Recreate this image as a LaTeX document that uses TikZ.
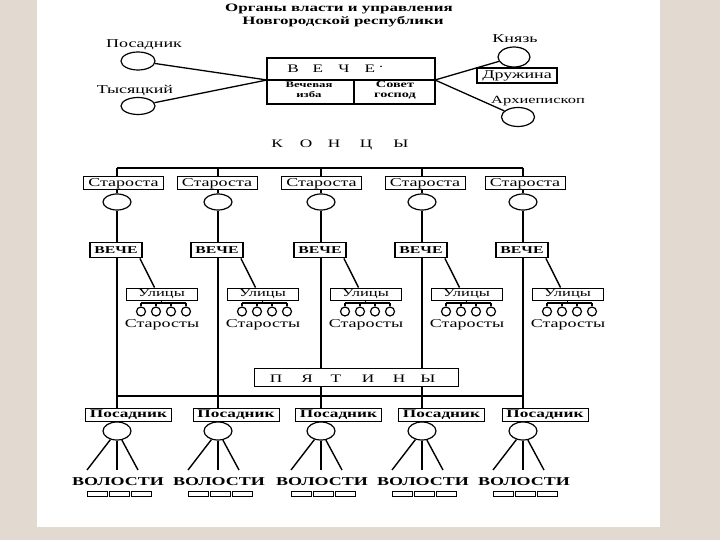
\documentclass[tikz,border=0pt]{standalone}
\usepackage{fontspec}
\setmainfont{Liberation Serif}[FakeStretch=1.5]
\usetikzlibrary{shapes.geometric,calc}
\definecolor{bgc}{HTML}{E2DAD0}
\newcommand\fsz[1]{\fontsize{#1}{#1}\selectfont}
\pgfdeclarelayer{back}\pgfdeclarelayer{lines}\pgfsetlayers{back,lines,main}
\tikzset{
  oval/.style={ellipse,draw,line width=1.2pt,fill=white,inner sep=0pt,minimum width=#1},
  bx/.style={draw,rectangle,line width=1pt,fill=white,inner sep=0pt},
  lbl/.style={inner sep=0pt,anchor=base},
  ln/.style={line width=1.4pt},
  thk/.style={line width=1.8pt}
}
\begin{document}
\begin{tikzpicture}[x=1pt,y=-1pt]
\begin{pgfonlayer}{back}
\fill[bgc] (0,0) rectangle (720,540);
\fill[white] (37,0) rectangle (660,527);
\end{pgfonlayer}
\useasboundingbox (0,0) rectangle (720,540);

% title
\node[lbl,font=\fsz{11.3}\bfseries] (t1) at (339,12) {Органы власти и управления};
\node[lbl,font=\fsz{11.3}\bfseries] (t2) at (343,25) {Новгородской республики};

% top veche
\node[bx,line width=1.2pt,minimum width=168pt,minimum height=46pt] (veche) at (351,81) {};
\coordinate (vl) at (267,80);
\coordinate (vr) at (435,80);
\coordinate (vdt) at (354,80);
\coordinate (vdb) at (354,104);
\draw[line width=1.2pt] (vl) -- (vr);
\draw[line width=1.2pt] (vdt) -- (vdb);
\foreach \k/\x/\c in {1/293/В,2/318/Е,3/344/Ч,4/370/Е}
  \node[lbl,font=\fsz{11.5}] (vt\k) at (\x,73) {\c};
\node[lbl,font=\fsz{11}] (vtd) at (381,71) {·};
\node[align=center,inner sep=0pt,font=\fontsize{8.5}{10}\selectfont\bfseries] (izba) at (309,90) {Вечевая\\изба};
\node[align=center,inner sep=0pt,font=\fontsize{9.5}{10}\selectfont\bfseries] (sovet) at (395,90) {Совет\\господ};

% left
\node[lbl,font=\fsz{12}] (tpos) at (144,48) {Посадник};
\node[oval=34pt,minimum height=18pt] (pos) at (138,61) {};
\node[lbl,font=\fsz{12}] (ttys) at (135,94) {Тысяцкий};
\node[oval=34pt,minimum height=17pt] (tys) at (138,106) {};
\begin{pgfonlayer}{lines}
\draw[line width=1.3pt] (pos) -- (vl);
\draw[line width=1.3pt] (tys) -- (vl);
\end{pgfonlayer}

% right
\node[lbl,font=\fsz{12}] (tkn) at (515,43) {Князь};
\node[oval=32pt,minimum height=20pt] (kn) at (514,57) {};
\node[bx,line width=1.3pt,minimum width=80pt,minimum height=15pt,font=\fsz{12}] (dr) at (517,75.5) {Дружина};
\node[lbl,font=\fsz{11}] (tar) at (538,104) {Архиепископ};
\node[oval=33pt,minimum height=19pt] (ar) at (518,117) {};
\begin{pgfonlayer}{lines}
\draw[line width=1.3pt] (vr) -- (kn);
\draw[line width=1.3pt] (vr) -- (ar);
\end{pgfonlayer}

% KONTSY
\foreach \k/\x/\c in {1/277/К,2/306/О,3/334/Н,4/366/Ц,5/401/Ы}
  \node[lbl,font=\fsz{11.5}] (kt\k) at (\x,148) {\c};

% PYATINY
\node[bx,minimum width=204pt,minimum height=18pt] (pyat) at (356,377) {};
\foreach \k/\x/\c in {1/276/П,2/307/Я,3/336/Т,4/368/И,5/399/Н,6/428/Ы}
  \node[lbl,font=\fsz{11.5}] (pt\k) at (\x,382) {\c};

% columns
\foreach \i/\L/\sc/\pc in {1/117/123.5/128.5,2/218/217/236,3/321/321.5/338.5,4/422/425/441.5,5/523/525/545}{
  \coordinate (kh\i) at (\L,168);
  \coordinate (bh\i) at (\L,396);
  \node[bx,minimum width=80pt,minimum height=13pt,font=\fsz{12}] (st\i) at (\sc,183.5) {Староста};
  \node[oval=28pt,minimum height=16pt] (sc\i) at (\L,202) {};
  \node[bx,line width=1.8pt,minimum width=52pt,minimum height=15pt,font=\fsz{10.5}\bfseries] (v\i) at (\L-1,250) {ВЕЧЕ};
  \node[bx,minimum width=71pt,minimum height=12pt,font=\fsz{11}] (u\i) at (\L+44.5,294) {Улицы};
  \coordinate (ct\i) at (\L+44.5,303);
  \coordinate (cl\i) at (\L+24,303);
  \coordinate (cr\i) at (\L+69,303);
  \foreach \m in {0,1,2,3}{
    \node[circle,draw,line width=1.2pt,fill=white,inner sep=0pt,minimum size=9pt] (sm\i\m) at (\L+24+15*\m,311.5) {};
    \coordinate (smt\i\m) at (\L+24+15*\m,303);
  }
  \node[lbl,font=\fsz{12}] (sts\i) at (\L+45,327) {Старосты};
  \node[bx,minimum width=86pt,minimum height=13pt,font=\fsz{11.5}\bfseries] (p\i) at (\pc,414.5) {Посадник};
  \node[oval=28pt,minimum height=18pt] (pc\i) at (\L,431) {};
  \coordinate (wl\i) at (\L-30,470);
  \coordinate (wm\i) at (\L,470);
  \coordinate (wr\i) at (\L+21,470);
  \node[lbl,font=\fsz{12}\bfseries] (vol\i) at (\L+1,485) {ВОЛОСТИ};
  \node[bx,line width=1.4pt,minimum width=20pt,minimum height=5pt] (va\i) at (\L-19.5,494) {};
  \node[bx,line width=1.4pt,minimum width=20pt,minimum height=5pt] (vb\i) at (\L+2.5,494) {};
  \node[bx,line width=1.4pt,minimum width=20pt,minimum height=5pt] (vc\i) at (\L+24.5,494) {};
  \begin{pgfonlayer}{lines}
    \draw[ln] (kh\i) -- (st\i.north -| kh\i);
    \draw[ln] (st\i.south -| sc\i) -- (sc\i);
    \draw[ln] (sc\i) -- (bh\i);
    \draw[ln] ($(v\i.south east)+(-3,0)$) -- ($(u\i.north west)+(29,0)$);
    \draw[line width=1.2pt] (u\i) -- (ct\i);
    \draw[line width=1.2pt] (cl\i) -- (cr\i);
    \foreach \m in {0,1,2,3}{\draw[line width=1.2pt] (smt\i\m) -- (sm\i\m);}
    \draw[ln] (bh\i) -- (p\i.north -| bh\i);
    \draw[ln] (pc\i) -- (wl\i);
    \draw[ln] (pc\i) -- (wm\i);
    \draw[ln] (pc\i) -- (wr\i);
    \draw[ln] (p\i.south -| pc\i) -- (pc\i);
  \end{pgfonlayer}
}
\begin{pgfonlayer}{lines}
\draw[thk] (kh1) -- (kh5);
\draw[thk] (bh1) -- (bh5);
\end{pgfonlayer}
\end{tikzpicture}
\end{document}
